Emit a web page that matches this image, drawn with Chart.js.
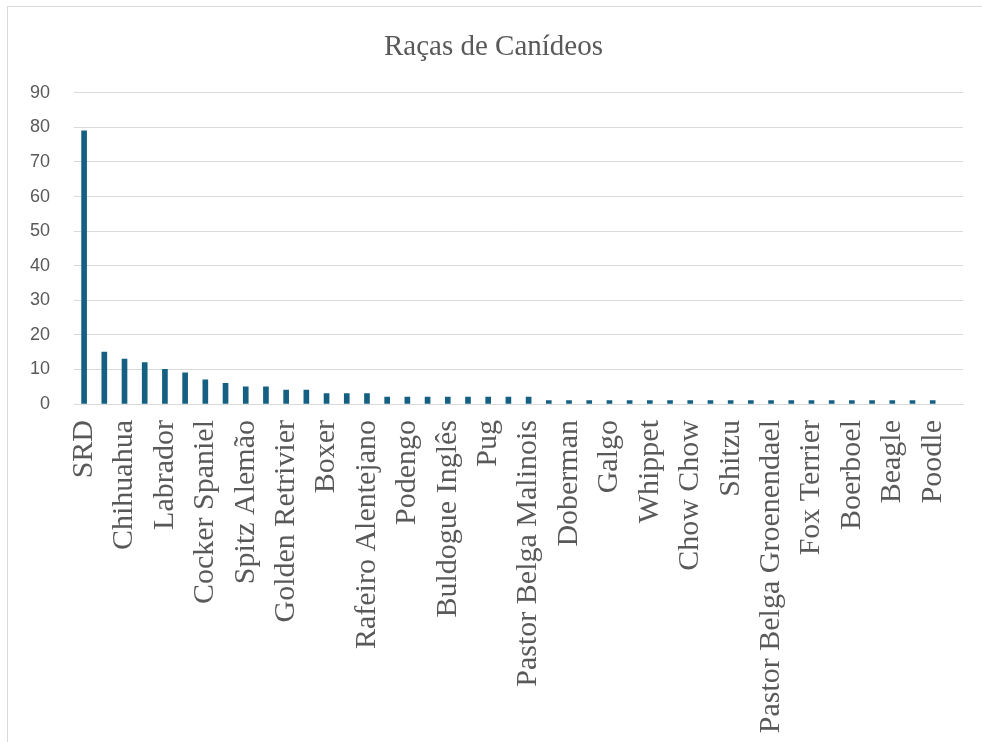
<!DOCTYPE html>
<html>
<head>
<meta charset="utf-8">
<script src="https://cdn.jsdelivr.net/npm/chart.js@4"></script>
<style>
  body { margin: 0; background: #fff; }
  #wrap { position: relative; width: 982px; height: 742px; }
  #frame { position: absolute; left: 7px; top: 6px; right: -2px; bottom: -2px; border: 1px solid #d9d9d9; }
  canvas { position: absolute; left: 0; top: 0; }
</style>
</head>
<body>
<div id="wrap">
  <div id="frame"></div>
  <canvas id="barChart" width="982" height="742"></canvas>
</div>
<script>
// only every other breed name is printed on the axis in the original
var racas = ["SRD", "Yorkshire Terrier", "Chihuahua", "Pinscher", "Labrador", "Pastor Alemão",
  "Cocker Spaniel", "Bulldog Francês", "Spitz Alemão", "Jack Russell Terrier", "Golden Retrivier",
  "Husky Siberiano", "Boxer", "Border Collie", "Rafeiro Alentejano", "Serra da Estrela", "Podengo",
  "Teckel", "Buldogue Inglês", "Pitbull", "Pug", "Rottweiler", "Pastor Belga Malinois", "Dálmata",
  "Doberman", "Cão de Água Português", "Galgo", "Maltês", "Whippet", "Setter Irlandês", "Chow Chow",
  "Akita", "Shitzu", "Schnauzer", "Pastor Belga Groenendael", "Bichon Frisé", "Fox Terrier",
  "Weimaraner", "Boerboel", "Cane Corso", "Beagle", "Samoiedo", "Poodle", ""];

var contagem = [79, 15, 13, 12, 10, 9, 7, 6, 5, 5, 4, 4, 3, 3, 3, 2, 2, 2, 2, 2, 2, 2, 2,
  1, 1, 1, 1, 1, 1, 1, 1, 1, 1, 1, 1, 1, 1, 1, 1, 1, 1, 1, 1, null];

var yTicks = [0, 10, 20, 30, 40, 50, 60, 70, 80, 90];

var cinza = "#595959";
var linha = "#d9d9d9";

const barPlot = () => {
  var ctx = document.getElementById('barChart').getContext('2d');

  new Chart(ctx, {
    type: "bar",
    data: {
      labels: racas,
      datasets: [{
        label: "Raças",
        backgroundColor: "#156082",
        data: contagem,
        barThickness: 5
      }]
    },
    options: {
      responsive: false,
      animation: false,
      layout: { padding: { left: 24, right: 19, top: 30, bottom: 0 } },
      plugins: {
        legend: { display: false },
        tooltip: { enabled: false },
        title: {
          display: true,
          text: "Raças de Canídeos",
          color: cinza,
          font: { family: "'Liberation Serif', 'Times New Roman', serif", size: 29, weight: "normal" },
          padding: { top: 0, bottom: 28 }
        }
      },
      scales: {
        x: {
          grid: { display: false, drawTicks: false },
          border: { color: linha, width: 1 },
          ticks: {
            autoSkip: false,
            maxRotation: 90,
            minRotation: 90,
            padding: 16,
            color: cinza,
            font: { family: "'Liberation Serif', 'Times New Roman', serif", size: 30 },
            callback: function (v, i) { return i % 2 === 0 ? racas[i] : ""; }
          },
          afterFit: function (s) { s.height = 338; s.paddingLeft = 0; s.paddingRight = 0; }
        },
        y: {
          min: 0,
          max: 90,
          afterBuildTicks: function (s) { s.ticks = yTicks.map(v => ({ value: v })); },
          grid: { color: linha, lineWidth: 1, drawTicks: false },
          border: { display: false },
          ticks: {
            padding: 24,
            color: cinza,
            font: { family: "'Liberation Sans', Arial, sans-serif", size: 18 }
          },
          afterFit: function (s) { s.width = 50; s.paddingTop = 0; s.paddingBottom = 0; }
        }
      }
    }
  });
}

barPlot();
</script>
</body>
</html>
